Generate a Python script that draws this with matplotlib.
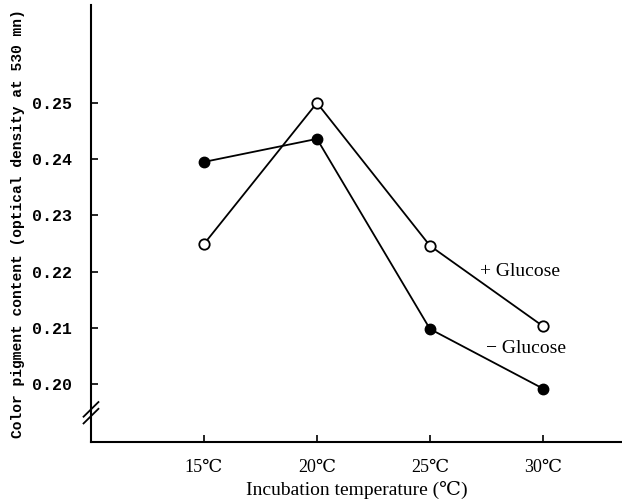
import matplotlib
matplotlib.use("Agg")
import matplotlib.pyplot as plt
import matplotlib.transforms as mtransforms

temps = [15, 20, 25, 30]
temp_labels = ["15℃", "20℃", "25℃", "30℃"]
minus_glucose = [0.2395, 0.2436, 0.2098, 0.1992]
plus_glucose = [0.2249, 0.2500, 0.2246, 0.2103]
y_ticks = [0.20, 0.21, 0.22, 0.23, 0.24, 0.25]

mono = ["Liberation Mono", "DejaVu Sans Mono"]
serif = ["Liberation Serif", "DejaVu Serif", "DejaVu Sans"]

fig = plt.figure(figsize=(6.22, 5.03), dpi=100)
ax = fig.add_axes([0.1463, 0.1213, 0.8537, 0.8687])

ax.plot(temps, minus_glucose, color="black", lw=1.3, marker="o",
        markersize=7.5, markerfacecolor="black", markeredgecolor="black")
ax.plot(temps, plus_glucose, color="black", lw=1.3, marker="o",
        markersize=7.5, markerfacecolor="white", markeredgecolor="black",
        markeredgewidth=1.3)

ax.text(27.2, plus_glucose[2] - 0.0053, "+ Glucose", family=serif,
        fontsize=14)
ax.text(27.5, minus_glucose[2] - 0.0043, "− Glucose", family=serif,
        fontsize=14)

ax.set_xlim(10, 33.5)
ax.set_ylim(0.1897, 0.2674)
ax.set_xticks(temps)
ax.set_xticklabels(temp_labels, family=serif, fontsize=13)
ax.set_yticks(y_ticks)
ax.set_yticklabels([f"{v:.2f}" for v in y_ticks], family=mono, fontsize=12,
                   fontweight="bold")

for side in ["top", "right"]:
    ax.spines[side].set_visible(False)
for side in ["left", "bottom"]:
    ax.spines[side].set_linewidth(1.5)
ax.tick_params(direction="in", length=5, width=1.2)
ax.tick_params(axis="y", pad=14)
ax.tick_params(axis="x", pad=12)

ax.set_ylabel("Color pigment content (optical density at 530 mn)",
              family=mono, fontsize=10.5, fontweight="bold", labelpad=5)
ax.set_xlabel("Incubation temperature (℃)", family=serif, fontsize=14,
              labelpad=4)

# axis break mark
trans = mtransforms.blended_transform_factory(ax.transAxes, ax.transData)
for off in [0.0, 0.0012]:
    ax.plot([-0.014, 0.014], [0.1930 + off, 0.1956 + off], color="black",
            lw=1.3, transform=trans, clip_on=False)

fig.savefig("out.png", dpi=100)
